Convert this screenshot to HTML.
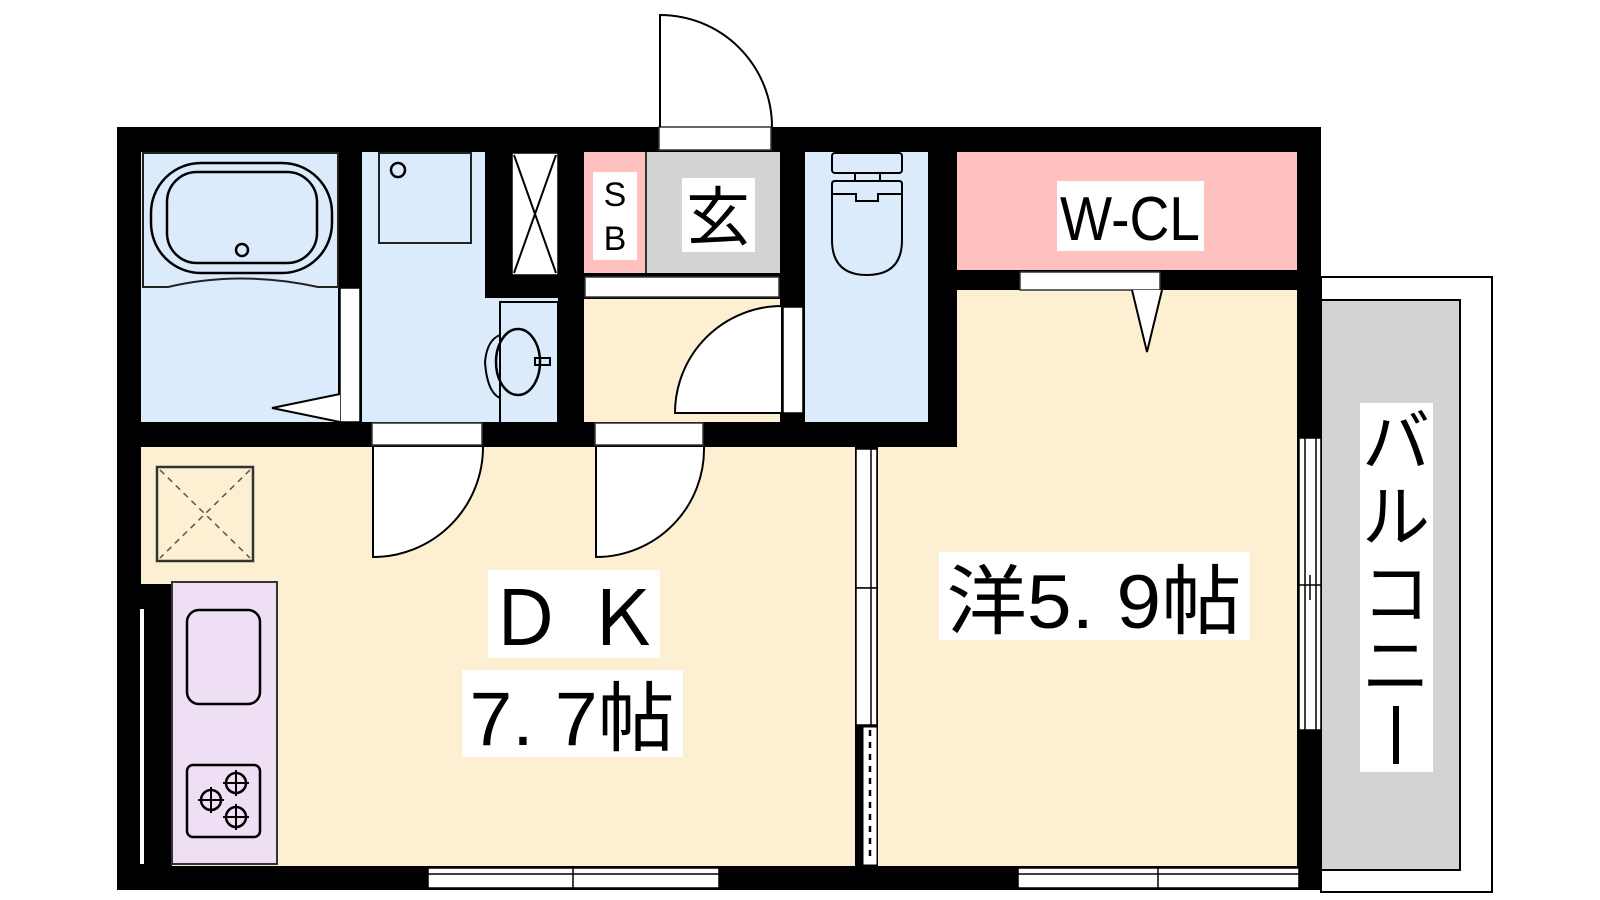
<!DOCTYPE html>
<html><head><meta charset="utf-8"><style>
html,body{margin:0;padding:0;background:#fff;}
svg{display:block;}
text{font-family:"Liberation Sans","Noto Sans CJK JP",sans-serif;fill:#000;}
</style></head><body>
<svg width="1600" height="900" viewBox="0 0 1600 900" xmlns="http://www.w3.org/2000/svg">
<!-- balcony -->
<rect x="1321" y="277" width="171" height="615" fill="#fff" stroke="#000" stroke-width="2"/>
<rect x="1321" y="300" width="139" height="570" fill="#d3d3d3" stroke="#000" stroke-width="2"/>
<!-- outer wall -->
<rect x="117" y="127" width="1204" height="763" fill="#000"/>
<!-- rooms -->
<rect x="141" y="152" width="197" height="270" fill="#dcebfc"/>
<rect x="362" y="152" width="123" height="270" fill="#dcebfc"/>
<rect x="485" y="298" width="73" height="124" fill="#dcebfc"/>
<rect x="584" y="152" width="62" height="121" fill="#ffc0c0"/>
<rect x="646" y="152" width="134" height="121" fill="#d3d3d3"/>
<rect x="584" y="299" width="196" height="123" fill="#fdf0d2"/>
<rect x="805" y="152" width="123" height="270" fill="#dcebfc"/>
<rect x="957" y="152" width="340" height="118" fill="#ffc0c0"/>
<rect x="141" y="447" width="714" height="419" fill="#fdf0d2"/>
<rect x="957" y="290" width="340" height="576" fill="#fdf0d2"/>
<rect x="878" y="447" width="80" height="419" fill="#fdf0d2"/>
<rect x="141" y="584" width="31" height="282" fill="#000"/>
<!-- kitchen -->
<rect x="172" y="582" width="105" height="282" fill="#eedff5" stroke="#333" stroke-width="2"/>
<rect x="187" y="610" width="73" height="94" rx="12" fill="none" stroke="#000" stroke-width="2.5"/>
<rect x="187" y="765" width="73" height="72" rx="6" fill="none" stroke="#000" stroke-width="2.5"/>
<g fill="none" stroke="#000" stroke-width="2.5">
<circle cx="211" cy="800" r="10"/><circle cx="236" cy="783" r="10"/><circle cx="236" cy="817" r="10"/>
</g>
<g stroke="#000" stroke-width="2">
<path d="M198 800h26M211 787v26M223 783h26M236 770v26M223 817h26M236 804v26"/>
</g>
<rect x="140" y="609" width="4" height="255" fill="#fff"/>
<!-- fridge -->
<rect x="157" y="467" width="96" height="94" fill="none" stroke="#333" stroke-width="2.5"/>
<path d="M160 470 L250 558 M250 470 L160 558" stroke="#555" stroke-width="1.5" stroke-dasharray="6,5"/>
<!-- bath -->
<path d="M143 287 L143 153 L338 153 L338 287 L318 287 Q240 270 168 287 Z" fill="none" stroke="#222" stroke-width="2"/>
<rect x="151" y="163" width="181" height="110" rx="50" fill="none" stroke="#000" stroke-width="2.5"/>
<rect x="167" y="172" width="150" height="91" rx="30" fill="none" stroke="#000" stroke-width="2.5"/>
<circle cx="242" cy="250" r="6" fill="none" stroke="#000" stroke-width="2.5"/>
<rect x="340" y="288" width="20" height="134" fill="#fff" stroke="#000" stroke-width="1.5"/>
<path d="M340 394 L272 408 L340 422" fill="#fff" stroke="#000" stroke-width="2"/>
<!-- washroom -->
<rect x="379" y="153" width="92" height="90" fill="none" stroke="#222" stroke-width="2"/>
<circle cx="398" cy="170" r="7" fill="none" stroke="#000" stroke-width="2.5"/>
<rect x="512" y="153" width="46" height="122" fill="#fff" stroke="#000" stroke-width="1.5"/>
<path d="M514 155 L556 273 M556 155 L514 273" stroke="#000" stroke-width="2"/>
<path d="M500 422 L500 335 Q487 340 485 362 Q487 392 500 398 M500 335 L500 302 L558 302 L558 422" fill="none" stroke="#000" stroke-width="2"/>
<ellipse cx="518" cy="362" rx="22" ry="33" fill="none" stroke="#000" stroke-width="2.5"/>
<rect x="535" y="358" width="15" height="7" fill="none" stroke="#000" stroke-width="2"/>
<!-- genkan -->
<line x1="646" y1="152" x2="646" y2="273" stroke="#333" stroke-width="2"/>
<rect x="585" y="277" width="194" height="20" fill="#fff" stroke="#333" stroke-width="1.5"/>
<rect x="593" y="172" width="44" height="88" fill="#fff"/>
<text x="615" y="206" font-size="34" text-anchor="middle">S</text>
<text x="615" y="250" font-size="34" text-anchor="middle">B</text>
<rect x="682" y="178" width="73" height="74" fill="#fff"/>
<text x="718" y="240" font-size="64" text-anchor="middle">玄</text>
<!-- hall door -->
<rect x="783" y="307" width="20" height="106" fill="#fff" stroke="#000" stroke-width="1.5"/>
<path d="M782 413 L675 413 A107 107 0 0 1 782 306 Z" fill="#fff" stroke="#000" stroke-width="2"/>
<!-- toilet -->
<rect x="832" y="153" width="70" height="20" rx="3" fill="none" stroke="#000" stroke-width="2"/>
<rect x="855" y="173" width="25" height="8" fill="none" stroke="#000" stroke-width="2"/>
<path d="M832 184 Q832 181 835 181 L899 181 Q902 181 902 184 L902 240 Q902 275 867 275 Q832 275 832 240 Z" fill="none" stroke="#000" stroke-width="2"/>
<path d="M832 194 L856 194 L856 201 L878 201 L878 194 L902 194" fill="none" stroke="#000" stroke-width="2"/>
<!-- top entrance door -->
<rect x="659" y="127" width="112" height="23" fill="#fff" stroke="#333" stroke-width="1.5"/>
<path d="M660 127 L660 15 A112 112 0 0 1 772 127" fill="none" stroke="#000" stroke-width="2"/>
<!-- DK doors -->
<rect x="372" y="423" width="110" height="22" fill="#fff" stroke="#333" stroke-width="1.5"/>
<path d="M373 447 L373 557 A110 110 0 0 0 483 447" fill="#fff" stroke="#000" stroke-width="2"/>
<rect x="595" y="423" width="108" height="22" fill="#fff" stroke="#333" stroke-width="1.5"/>
<path d="M596 447 L596 557 A108 108 0 0 0 704 447" fill="#fff" stroke="#000" stroke-width="2"/>
<!-- partition -->
<rect x="855" y="447" width="23" height="419" fill="#000"/>
<rect x="856" y="449" width="21" height="139" fill="#fff" stroke="#000" stroke-width="1.5"/>
<rect x="856" y="588" width="21" height="137" fill="#fff" stroke="#000" stroke-width="1.5"/>
<line x1="871" y1="449" x2="871" y2="725" stroke="#000" stroke-width="1.5"/>
<rect x="863" y="727" width="14" height="138" fill="#fff" stroke="#000" stroke-width="1"/>
<line x1="870" y1="730" x2="870" y2="862" stroke="#000" stroke-width="2.5" stroke-dasharray="6,6"/>
<!-- W-CL door -->
<rect x="1020" y="272" width="140" height="18" fill="#fff" stroke="#333" stroke-width="1.5"/>
<path d="M1132 290 L1147 352 L1162 290" fill="#fff" stroke="#000" stroke-width="2"/>
<!-- right window -->
<rect x="1299" y="438" width="22" height="292" fill="#fff" stroke="#000" stroke-width="1.5"/>
<line x1="1305" y1="438" x2="1305" y2="730" stroke="#000" stroke-width="1.5"/>
<line x1="1316" y1="438" x2="1316" y2="730" stroke="#000" stroke-width="1.5"/>
<line x1="1299" y1="585" x2="1321" y2="585" stroke="#000" stroke-width="1.5"/>
<line x1="1310" y1="575" x2="1310" y2="600" stroke="#000" stroke-width="1.5"/>
<!-- bottom windows -->
<rect x="428" y="868" width="291" height="20" fill="#fff" stroke="#000" stroke-width="1.5"/>
<line x1="428" y1="874" x2="719" y2="874" stroke="#000" stroke-width="1.5"/>
<line x1="573" y1="868" x2="573" y2="888" stroke="#000" stroke-width="1.5"/>
<rect x="1018" y="868" width="281" height="20" fill="#fff" stroke="#000" stroke-width="1.5"/>
<line x1="1018" y1="874" x2="1299" y2="874" stroke="#000" stroke-width="1.5"/>
<line x1="1158" y1="868" x2="1158" y2="888" stroke="#000" stroke-width="1.5"/>
<!-- labels -->
<rect x="1057" y="181" width="147" height="70" fill="#fff"/>
<text x="1130" y="240" font-size="62" text-anchor="middle" textLength="140" lengthAdjust="spacingAndGlyphs">W-CL</text>
<rect x="488" y="570" width="172" height="88" fill="#fff"/>
<text x="574" y="645" font-size="76" text-anchor="middle">Ｄ Ｋ</text>
<rect x="462" y="670" width="221" height="87" fill="#fff"/>
<text x="572" y="745" font-size="76" text-anchor="middle" textLength="205" lengthAdjust="spacingAndGlyphs">7. 7帖</text>
<rect x="939" y="552" width="311" height="88" fill="#fff"/>
<text x="1094" y="628" font-size="76" text-anchor="middle" textLength="295" lengthAdjust="spacingAndGlyphs">洋5. 9帖</text>
<rect x="1360" y="403" width="73" height="369" fill="#fff"/>
<text font-size="68" text-anchor="middle">
<tspan x="1396" y="466">バ</tspan><tspan x="1396" y="541">ル</tspan><tspan x="1396" y="618">コ</tspan><tspan x="1396" y="690">ニ</tspan>
</text>
<rect x="1393" y="706" width="6" height="58" fill="#000"/>
</svg>
</body></html>
